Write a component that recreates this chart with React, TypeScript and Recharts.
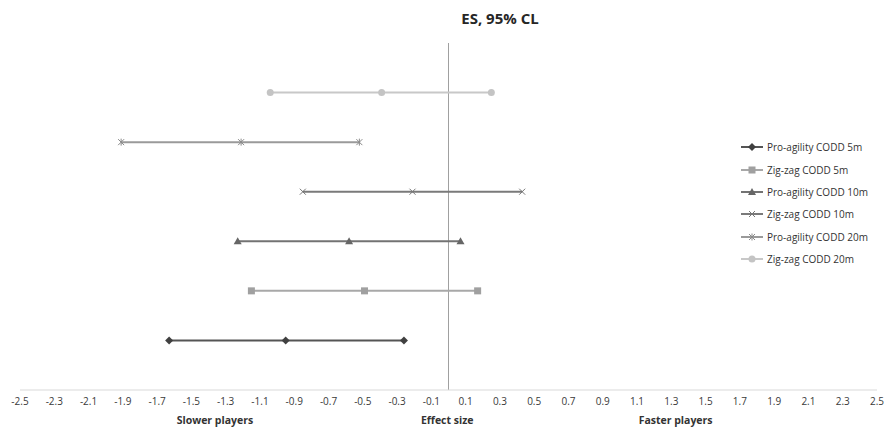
import * as React from 'react';
import { ScatterChart, Scatter, XAxis, YAxis, ReferenceLine, Label } from 'recharts';

const categories = [
    'Pro-agility CODD 5m',
    'Zig-zag CODD 5m',
    'Pro-agility CODD 10m',
    'Zig-zag CODD 10m',
    'Pro-agility CODD 20m',
    'Zig-zag CODD 20m',
];
const rows = [1, 2, 3, 4, 5, 6];
const lower = [-1.63, -1.15, -1.23, -0.85, -1.91, -1.04];
const effect = [-0.95, -0.49, -0.58, -0.21, -1.21, -0.39];
const upper = [-0.26, 0.17, 0.07, 0.43, -0.52, 0.25];
const ticks = [-2.5, -2.3, -2.1, -1.9, -1.7, -1.5, -1.3, -1.1, -0.9, -0.7, -0.5, -0.3, -0.1,
    0.1, 0.3, 0.5, 0.7, 0.9, 1.1, 1.3, 1.5, 1.7, 1.9, 2.1, 2.3, 2.5];
const axisLabels = ['Slower players', 'Effect size', 'Faster players'];

const markers = ['diamond', 'square', 'triangle', 'x', 'star', 'circle'];
const lineColors = ['#555555', '#a8a8a8', '#737373', '#7a7a7a', '#9a9a9a', '#c8c8c8'];
const markerColors = ['#404040', '#a0a0a0', '#666666', '#777777', '#8a8a8a', '#c4c4c4'];

const font = '"Liberation Sans Narrow", "Open Sans", sans-serif';

function Marker(props: { kind: string; cx: number; cy: number; color: string }) {
    const { kind, cx, cy, color } = props;
    switch (kind) {
        case 'diamond':
            return <polygon points={`${cx},${cy - 4} ${cx + 4},${cy} ${cx},${cy + 4} ${cx - 4},${cy}`} fill={color} />;
        case 'square':
            return <rect x={cx - 3.5} y={cy - 3.5} width={7} height={7} fill={color} />;
        case 'triangle':
            return <polygon points={`${cx},${cy - 4} ${cx + 4},${cy + 3} ${cx - 4},${cy + 3}`} fill={color} />;
        case 'x':
            return (
                <g stroke={color} strokeWidth={1}>
                    <line x1={cx - 3} y1={cy - 3} x2={cx + 3} y2={cy + 3} />
                    <line x1={cx - 3} y1={cy + 3} x2={cx + 3} y2={cy - 3} />
                </g>
            );
        case 'star':
            return (
                <g stroke={color} strokeWidth={1}>
                    <line x1={cx - 3} y1={cy - 3} x2={cx + 3} y2={cy + 3} />
                    <line x1={cx - 3} y1={cy + 3} x2={cx + 3} y2={cy - 3} />
                    <line x1={cx} y1={cy - 3.5} x2={cx} y2={cy + 3.5} />
                </g>
            );
        default:
            return <circle cx={cx} cy={cy} r={3.5} fill={color} />;
    }
}

function LegendBox() {
    return (
        <div style={{
            position: 'absolute', left: 741, top: 136, width: 140,
            fontFamily: '"Open Sans", sans-serif', fontSize: 10, color: '#333333',
        }}>
            {categories.map((name, i) => (
                <div key={name} style={{ display: 'flex', alignItems: 'center', height: 22.4 }}>
                    <svg width={24} height={10}>
                        <line x1={0} y1={5} x2={22} y2={5} stroke={lineColors[i]} strokeWidth={2} />
                        <Marker kind={markers[i]} cx={11} cy={5} color={markerColors[i]} />
                    </svg>
                    <span style={{ marginLeft: 2 }}>{name}</span>
                </div>
            ))}
        </div>
    );
}

function BottomLabels(props: any) {
    const { x, y, width } = props.viewBox;
    const pos = [0.2275, 0.4985, 0.765];
    return (
        <g>
            {axisLabels.map((t, i) => (
                <text key={t} x={x + width * pos[i]} y={y + 34} textAnchor="middle"
                    fontFamily={font} fontSize={10.5} fontWeight="bold" fill="#333333">{t}</text>
            ))}
        </g>
    );
}

export default function App() {
    return (
        <div style={{ position: 'absolute', left: 0, top: 0, width: 884, height: 428, background: '#fff' }}>
            <div style={{
                position: 'absolute', left: 0, width: 1000, top: 8, textAlign: 'center',
                fontFamily: '"Open Sans", sans-serif', fontWeight: 'bold', fontSize: 15, color: '#262626',
            }}>ES, 95% CL</div>
            <ScatterChart width={884} height={428} margin={{ top: 43, right: 7, bottom: 8, left: 20 }}>
                <XAxis type="number" dataKey="x" domain={[-2.5, 2.5]} ticks={ticks} interval={0}
                    allowDataOverflow tickLine={false} stroke="#d9d9d9" height={30}
                    tick={{ fill: '#3a3a3a', fontSize: 10, fontFamily: font }}>
                    <Label content={BottomLabels} />
                </XAxis>
                <YAxis type="number" dataKey="y" domain={[0, 7]} hide width={0} />
                <ReferenceLine x={0} stroke="#a0a0a0" strokeWidth={1} />
                {categories.map((name, i) => (
                    <Scatter key={name} name={name} isAnimationActive={false}
                        data={[
                            { x: lower[i], y: rows[i] },
                            { x: effect[i], y: rows[i] },
                            { x: upper[i], y: rows[i] },
                        ]}
                        line={{ stroke: lineColors[i], strokeWidth: 2 }}
                        shape={(p: any) => <Marker kind={markers[i]} cx={p.cx} cy={p.cy} color={markerColors[i]} />}
                    />
                ))}
            </ScatterChart>
            <LegendBox />
        </div>
    );
}
